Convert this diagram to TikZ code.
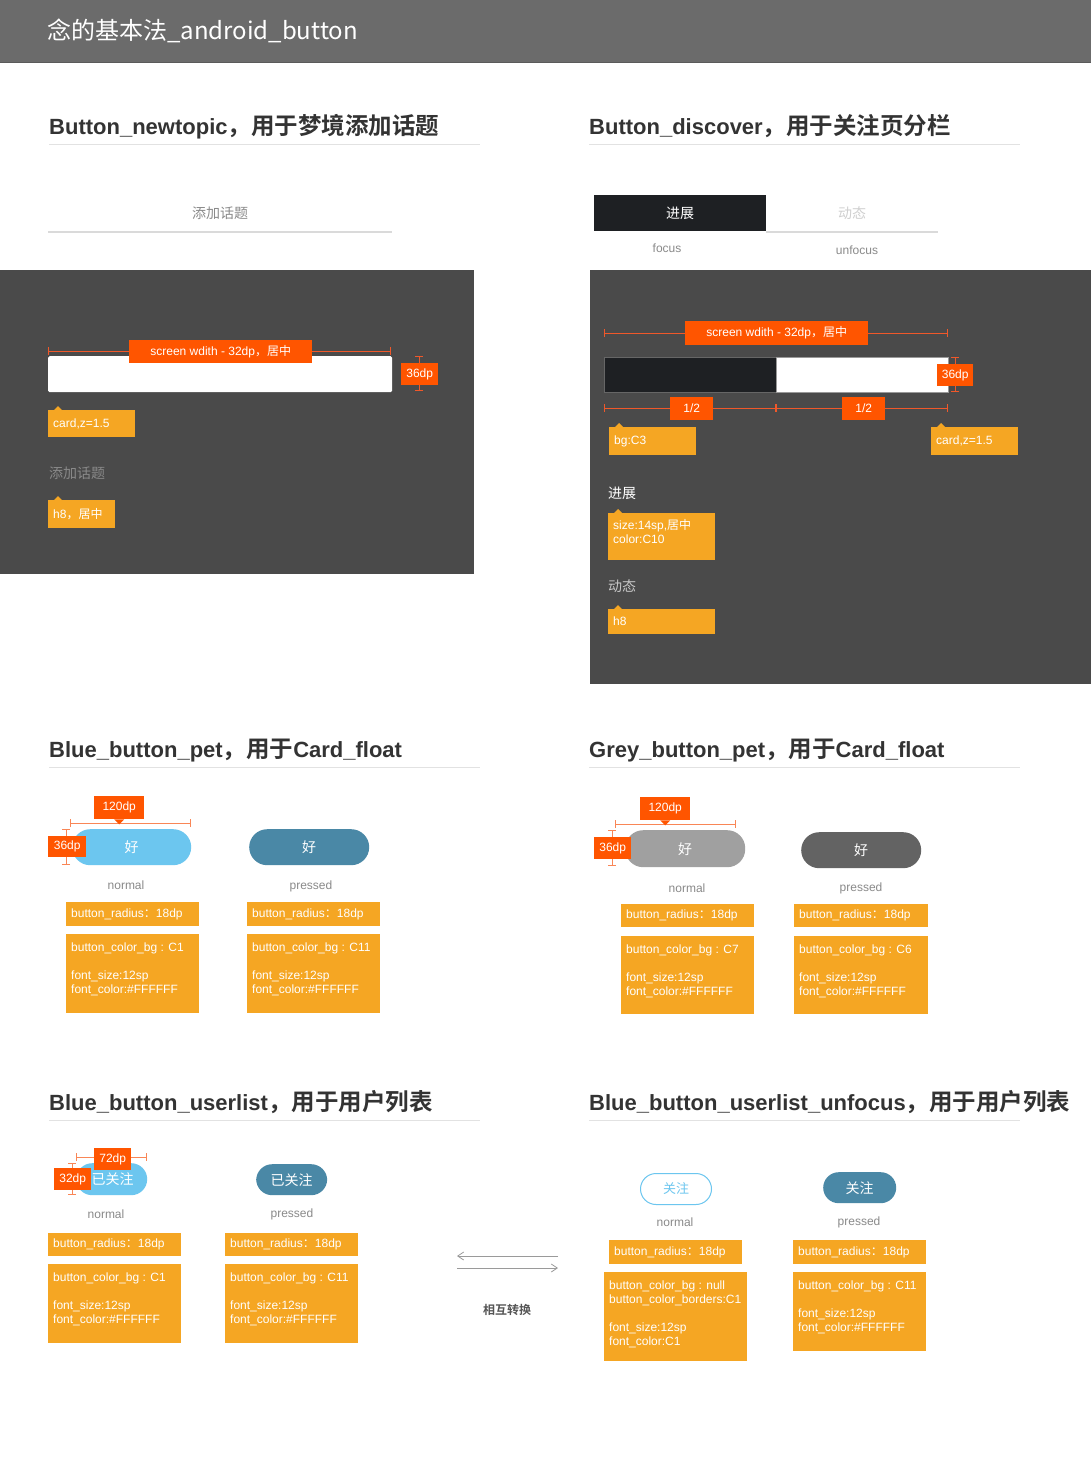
\documentclass[tikz,border=0pt]{standalone}
\usepackage{fontspec}
\setmainfont{Liberation Sans}
\newfontfamily\cjk{Noto Sans CJK SC}[BoldFont={Noto Sans CJK SC Bold}]
\usetikzlibrary{arrows.meta}
\definecolor{titlebg}{HTML}{6B6B6B}
\definecolor{titleline}{HTML}{5A5A5A}
\definecolor{panel}{HTML}{4A4A4A}
\definecolor{org}{HTML}{FF5500}
\definecolor{orgline}{HTML}{F0582A}
\definecolor{orglite}{HTML}{F98656}
\definecolor{yel}{HTML}{F5A623}
\definecolor{head}{HTML}{333333}
\definecolor{rule}{HTML}{E2E2E2}
\definecolor{lab}{HTML}{8A8A8A}
\definecolor{tabdark}{HTML}{1E2023}
\definecolor{tabgrey}{HTML}{CFCFCF}
\definecolor{dimtext}{HTML}{C8C8C8}
\definecolor{pblue}{HTML}{6CC6EF}
\definecolor{pbluep}{HTML}{4A88A6}
\definecolor{pgrey}{HTML}{A0A0A0}
\definecolor{pgreyp}{HTML}{636363}
\definecolor{shad}{HTML}{DADADA}
\definecolor{arrg}{HTML}{9A9A9A}
\definecolor{convt}{HTML}{555555}
\newcommand\fsz[2]{\fontsize{#1}{#2}\selectfont}
\newcommand\cj[1]{{\cjk #1}}
\newcommand\hcj[1]{{\cjk\fsz{23.5}{28}#1}}
\newcommand\mkbox[7]{%
  \pgfmathsetmacro\bw{#5-#3}\pgfmathsetmacro\bh{#6-#4}%
  \node[#1, anchor=north west, inner sep=0pt, minimum width=\bw pt, minimum height=\bh pt] (#2) at (#3,#4) {#7};}
\newcommand\ylab[6]{%
  \pgfmathsetmacro\bw{#4-#2}\pgfmathsetmacro\bh{#5-#3}\pgfmathsetmacro\tw{#4-#2-10}%
  \node[ybox, anchor=north west, inner ysep=0pt, inner xsep=5pt, text width=\tw pt, minimum width=\bw pt, minimum height=\bh pt, align=left] (#1) at (#2,#3) {#6};}
\newcommand\notch[1]{\fill[yel] ([xshift=6pt]#1.north west) -- ++(4,-4) -- ++(4,4) -- cycle;}
\newcommand\spec[6]{%
  \mkbox{ybox}{#1}{#2}{#3}{#4}{#5}{}%
  \node[spectext, anchor=north west] (#1t) at ([xshift=5pt,yshift=-8.5pt]#1.north west) {#6};}
\newcommand\rad{button\_radius\cj{：}18dp}
\begin{document}
\begin{tikzpicture}[x=1pt,y=-1pt,
  ybox/.style={fill=yel,text=white,font=\fsz{12}{14}},
  obox/.style={fill=org,text=white,font=\fsz{12}{14}},
  spectext/.style={text=white,font=\fsz{12}{14},align=left,inner sep=0pt},
  headt/.style={text=head,font=\bfseries\fsz{22}{28},inner sep=0pt},
  labt/.style={text=lab,font=\fsz{12}{14},inner sep=0pt},
  rulel/.style={draw=rule,line width=1pt},
  dimd/.style={draw=orgline,line width=0.8pt,{Bar[width=8pt]}-{Bar[width=8pt]}},
  diml/.style={draw=orglite,line width=0.8pt,{Bar[width=8pt]}-{Bar[width=8pt]}},
  pilltext/.style={text=white,font=\cjk\fsz{14}{16}},
  arrline/.style={draw=arrg,line width=0.8pt,-{Straight Barb[length=6pt,width=8pt]}},
]
\useasboundingbox (0,0) rectangle (1091,1459);
\fill[white] (0,0) rectangle (1091,1459);
% ---- title bar
\mkbox{fill=titlebg}{bar}{0}{0}{1091}{62}{}
\draw[titleline,line width=1.5pt] (bar.south west) -- (bar.south east);
\node[text=white,font=\cjk\fsz{24}{28},anchor=west,inner sep=0pt] (title) at (47,31) {念的基本法\_android\_button};
% ---- headings
\node[headt,anchor=base west] (hA) at (49,134) {Button\_newtopic\hcj{，用于梦境添加话题}};
\draw[rulel] (49,144) -- (480,144);
\node[headt,anchor=base west] (hB) at (589,134) {Button\_discover\hcj{，用于关注页分栏}};
\draw[rulel] (589,144) -- (1020,144);
\node[headt,anchor=base west] (hC) at (49,757) {Blue\_button\_pet\hcj{，用于}Card\_float};
\draw[rulel] (49,767) -- (480,767);
\node[headt,anchor=base west] (hD) at (589,757) {Grey\_button\_pet\hcj{，用于}Card\_float};
\draw[rulel] (589,767) -- (1020,767);
\node[headt,anchor=base west] (hE) at (49,1110) {Blue\_button\_userlist\hcj{，用于用户列表}};
\draw[rulel] (49,1120) -- (480,1120);
\node[headt,anchor=base west] (hF) at (589,1110) {Blue\_button\_userlist\_unfocus\hcj{，用于用户列表}};
\draw[rulel] (589,1120) -- (1020,1120);
% ---- section 1
\fill[shad] (48,198) rectangle (392,233);
\mkbox{fill=white,text=lab,font=\cjk\fsz{14}{16}}{btnA}{48}{196}{392}{231}{添加话题}
\mkbox{fill=panel}{panA}{0}{270}{474}{574}{}
\mkbox{fill=white,rounded corners=1.5pt}{barA}{48}{356}{392}{392}{}
\coordinate (dAa) at (48,351); \coordinate (dAb) at (391,351);
\draw[dimd] (dAa) -- (dAb);
\mkbox{obox}{lA}{129}{340}{312}{363}{screen wdith - 32dp\cj{，居中}}
\coordinate (vAa) at (419,356); \coordinate (vAb) at (419,391);
\draw[dimd] (vAa) -- (vAb);
\mkbox{obox}{hgA}{401}{363}{438}{385}{36dp}
\ylab{cardA}{48}{410}{135}{437}{card,z=1.5}
\notch{cardA}
\node[text=lab,font=\cjk\fsz{14}{16},anchor=west,inner sep=0pt] (tA) at (49,473) {添加话题};
\ylab{h8A}{48}{500}{115}{528}{h8\cj{，居中}}
\notch{h8A}
% ---- section 2
\fill[shad] (766,197) rectangle (938,232.5);
\mkbox{fill=tabdark,text=white,font=\cjk\fsz{14}{16}}{tabF}{594}{195}{766}{231}{进展}
\mkbox{fill=white,text=tabgrey,font=\cjk\fsz{14}{16}}{tabU}{766}{195}{938}{231}{动态}
\node[labt] (fF) at (667,248) {focus};
\node[labt] (fU) at (857,250) {unfocus};
\mkbox{fill=panel}{panB}{590}{270}{1091}{684}{}
\coordinate (dBa) at (604,333); \coordinate (dBb) at (948,333);
\draw[dimd] (dBa) -- (dBb);
\mkbox{obox}{lB}{685}{321}{868}{345}{screen wdith - 32dp\cj{，居中}}
\mkbox{fill=tabdark,draw=black!60,line width=0.5pt}{barBl}{604}{357}{776}{392}{}
\mkbox{fill=white,draw=black!40,line width=0.5pt}{barBr}{776}{357}{948}{392}{}
\coordinate (vBa) at (955,357); \coordinate (vBb) at (955,392);
\draw[dimd] (vBa) -- (vBb);
\mkbox{obox}{hgB}{937}{364}{973}{386}{36dp}
\coordinate (hBa) at (604,408); \coordinate (hBm) at (776,408); \coordinate (hBb) at (948,408);
\draw[dimd] (hBa) -- (hBm);
\draw[dimd] (hBm) -- (hBb);
\mkbox{obox}{hfA}{670}{397}{713}{420}{1/2}
\mkbox{obox}{hfB}{842}{397}{885}{420}{1/2}
\ylab{bgB}{609}{427}{696}{455}{bg:C3}
\notch{bgB}
\ylab{cardB}{931}{427}{1018}{455}{card,z=1.5}
\notch{cardB}
\node[text=white,font=\cjk\fsz{14}{16},anchor=west,inner sep=0pt] (tB1) at (608,493) {进展};
\mkbox{ybox}{szB}{608}{513}{715}{560}{}
\notch{szB}
\node[spectext,anchor=north west] (szBt) at ([xshift=5pt,yshift=-6pt]szB.north west) {size:14sp,\cj{居中}\\color:C10};
\node[text=dimtext,font=\cjk\fsz{14}{16},anchor=west,inner sep=0pt] (tB2) at (608,586) {动态};
\ylab{h8B}{608}{609}{715}{634}{h8}
\notch{h8B}
% ---- section 3
\mkbox{fill=pblue,rounded corners=18pt,pilltext}{pC1}{72}{829}{191}{865}{好}
\mkbox{fill=pbluep,rounded corners=18pt,pilltext}{pC2}{249}{829}{369}{865}{好}
\coordinate (dCa) at (70,823); \coordinate (dCb) at (191,823);
\draw[diml] (dCa) -- (dCb);
\mkbox{obox}{wC}{94}{796}{144}{819}{120dp}
\fill[org] (wC.south) ++(-5,0) -- ++(5,5) -- ++(5,-5) -- cycle;
\coordinate (vCa) at (66,829); \coordinate (vCb) at (66,865);
\draw[diml] (vCa) -- (vCb);
\mkbox{obox}{hC}{48}{836}{86}{857}{36dp}
\node[labt] (nC1) at (126,885) {normal};
\node[labt] (nC2) at (311,886) {pressed};
\ylab{rC1}{66}{902}{199}{926}{\rad}
\spec{sC1}{66}{934}{199}{1013}{button\_color\_bg : C1\\[14pt]font\_size:12sp\\font\_color:\#FFFFFF}
\ylab{rC2}{247}{902}{380}{926}{\rad}
\spec{sC2}{247}{934}{380}{1013}{button\_color\_bg : C11\\[14pt]font\_size:12sp\\font\_color:\#FFFFFF}
% ---- section 4
\mkbox{fill=pgrey,rounded corners=18pt,pilltext}{pD1}{625}{830}{745}{867}{好}
\mkbox{fill=pgreyp,rounded corners=18pt,pilltext}{pD2}{801}{832}{921}{868}{好}
\coordinate (dDa) at (615,824); \coordinate (dDb) at (736,824);
\draw[diml] (dDa) -- (dDb);
\mkbox{obox}{wD}{640}{797}{690}{820}{120dp}
\fill[org] (wD.south) ++(-5,0) -- ++(5,5) -- ++(5,-5) -- cycle;
\coordinate (vDa) at (612,830); \coordinate (vDb) at (612,866);
\draw[diml] (vDa) -- (vDb);
\mkbox{obox}{hD}{594}{837}{631}{859}{36dp}
\node[labt] (nD1) at (687,888) {normal};
\node[labt] (nD2) at (861,888) {pressed};
\ylab{rD1}{621}{904}{754}{927}{\rad}
\spec{sD1}{621}{936}{754}{1014}{button\_color\_bg : C7\\[14pt]font\_size:12sp\\font\_color:\#FFFFFF}
\ylab{rD2}{794}{904}{928}{927}{\rad}
\spec{sD2}{794}{936}{928}{1014}{button\_color\_bg : C6\\[14pt]font\_size:12sp\\font\_color:\#FFFFFF}
% ---- section 5
\mkbox{fill=pblue,rounded corners=16pt,pilltext}{pE1}{76}{1163}{147}{1195}{}
\node[pilltext,inner sep=0pt] (pE1t) at ([xshift=1pt]pE1.center) {已关注};
\mkbox{fill=pbluep,rounded corners=16pt,pilltext}{pE2}{256}{1164}{327}{1195}{已关注}
\coordinate (dEa) at (76,1157); \coordinate (dEb) at (147,1157);
\draw[diml] (dEa) -- (dEb);
\mkbox{obox}{wE}{94}{1148}{131}{1170}{72dp}
\coordinate (vEa) at (72,1163); \coordinate (vEb) at (72,1195);
\draw[diml] (vEa) -- (vEb);
\mkbox{obox}{hE2}{54}{1168}{91}{1190}{32dp}
\node[labt] (nE1) at (106,1214) {normal};
\node[labt] (nE2) at (292,1214) {pressed};
\ylab{rE1}{48}{1233}{181}{1256}{\rad}
\spec{sE1}{48}{1264}{181}{1343}{button\_color\_bg : C1\\[14pt]font\_size:12sp\\font\_color:\#FFFFFF}
\ylab{rE2}{225}{1233}{358}{1256}{\rad}
\spec{sE2}{225}{1264}{358}{1343}{button\_color\_bg : C11\\[14pt]font\_size:12sp\\font\_color:\#FFFFFF}
% ---- section 6
\coordinate (aR) at (558,1256); \coordinate (aL) at (457,1256);
\draw[arrline] (aR) -- (aL);
\coordinate (bL) at (457,1268); \coordinate (bR) at (558,1268);
\draw[arrline] (bL) -- (bR);
\node[text=convt,font=\cjk\bfseries\fsz{12}{14},inner sep=0pt] (conv) at (507,1310) {相互转换};
\mkbox{fill=white,draw=pblue,line width=1pt,rounded corners=15.5pt,text=pblue,font=\cjk\fsz{13}{15}}{pF1}{640}{1173}{711}{1204}{关注}
\mkbox{fill=pbluep,rounded corners=15.5pt,pilltext}{pF2}{823}{1172}{896}{1203}{关注}
\node[labt] (nF1) at (675,1222) {normal};
\node[labt] (nF2) at (859,1222) {pressed};
\ylab{rF1}{609}{1240}{742}{1264}{\rad}
\spec{sF1}{604}{1272}{747}{1361}{button\_color\_bg : null\\button\_color\_borders:C1\\[14pt]font\_size:12sp\\font\_color:C1}
\ylab{rF2}{793}{1240}{926}{1264}{\rad}
\spec{sF2}{793}{1272}{926}{1351}{button\_color\_bg : C11\\[14pt]font\_size:12sp\\font\_color:\#FFFFFF}
\end{tikzpicture}
\end{document}
